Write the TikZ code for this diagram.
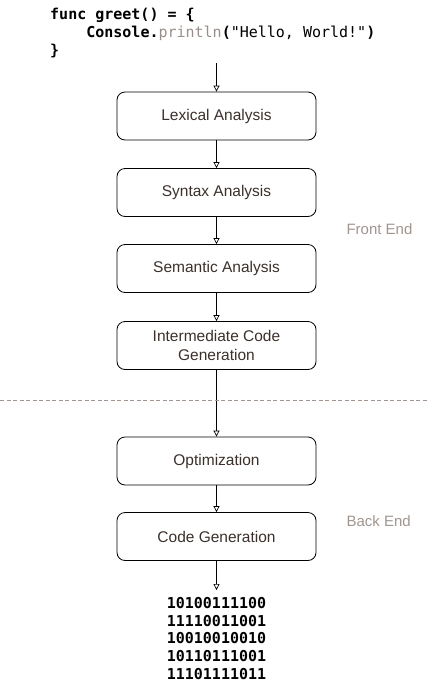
\documentclass[tikz,border=0pt]{standalone}
\usepackage{fontspec}
\setmainfont{Liberation Sans}
\newfontfamily\codefont{DejaVu Sans Mono}
\usetikzlibrary{arrows.meta}
\definecolor{boxtext}{HTML}{3B302B}
\definecolor{side}{HTML}{A0958F}
\definecolor{fn}{HTML}{9A8F8A}
\tikzset{
  stagebox/.style={draw=black, line width=0.8pt, rounded corners=8pt, minimum width=199pt, minimum height=48pt, align=center, text=boxtext, font=\fontsize{15.5}{18.5}\selectfont, inner sep=2pt},
  flow/.style={draw=black, line width=0.7pt, -{Triangle[open, width=6pt, length=6pt]}},
  sidelabel/.style={text=side, font=\fontsize{15}{18}\selectfont, anchor=west},
  codeline/.style={anchor=base west, inner sep=0pt, font=\codefont\bfseries\fontsize{15}{18}\selectfont},
  binline/.style={anchor=base, inner sep=0pt, font=\codefont\bfseries\fontsize{15}{18}\selectfont}
}
\begin{document}
\begin{tikzpicture}[x=1pt, y=-1pt]
\useasboundingbox (0,0) rectangle (428,689);
\node[codeline] (c1) at (50,19) {func greet() = \{};
\node[codeline] (c2) at (50,37) {\phantom{xxxx}Console.{\mdseries\color{fn}println}({\mdseries "Hello, World!"})};
\node[codeline] (c3) at (50,55) {\}};
\coordinate (in) at (216.5,63);
\node[stagebox] (lex) at (216.5,116) {Lexical Analysis};
\node[stagebox] (syn) at (216.5,192.5) {Syntax Analysis};
\node[stagebox] (sem) at (216.5,268.5) {Semantic Analysis};
\node[stagebox] (icg) at (216.5,345.5) {Intermediate Code\\Generation};
\node[stagebox] (opt) at (216.5,461) {Optimization};
\node[stagebox] (cg) at (216.5,536.5) {Code Generation};
\coordinate (outb) at (216.5,590);
\draw[flow] (in) -- (lex);
\draw[flow] (lex) -- (syn);
\draw[flow] (syn) -- (sem);
\draw[flow] (sem) -- (icg);
\draw[flow] (icg) -- (opt);
\draw[flow] (cg) -- (outb);
\draw[flow] (opt) -- (cg);
\coordinate (dl) at (0,400);
\coordinate (dr) at (428,400);
\draw[side, line width=0.8pt, dash pattern=on 4pt off 2.5pt] (dl) -- (dr);
\node[sidelabel] (fe) at (343,229) {Front End};
\node[sidelabel] (be) at (343,521) {Back End};
\node[binline] (b1) at (216.5,608) {10100111100};
\node[binline] (b2) at (216.5,626) {11110011001};
\node[binline] (b3) at (216.5,643.5) {10010010010};
\node[binline] (b4) at (216.5,661) {10110111001};
\node[binline] (b5) at (216.5,679) {11101111011};
\end{tikzpicture}
\end{document}
